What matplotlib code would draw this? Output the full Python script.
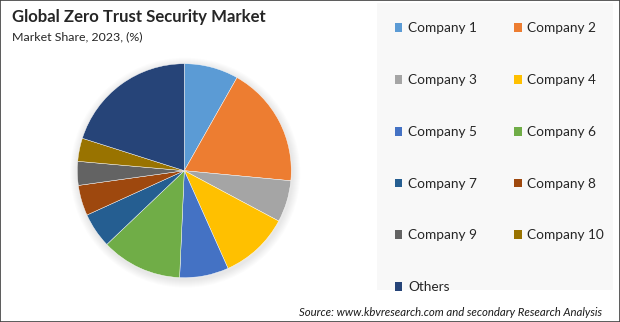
import matplotlib
matplotlib.use("Agg")
import matplotlib.pyplot as plt
from matplotlib.patches import Rectangle, Circle, Patch

labels = ["Company 1", "Company 2", "Company 3", "Company 4", "Company 5",
          "Company 6", "Company 7", "Company 8", "Company 9", "Company 10", "Others"]
shares = [8.2, 18.3, 6.3, 10.5, 7.4, 12.2, 5.3, 4.6, 3.6, 3.5, 20.1]
colors = ["#5B9BD5", "#ED7D31", "#A5A5A5", "#FFC000", "#4472C4", "#70AD47",
          "#255E91", "#9E480E", "#636363", "#997300", "#264478"]

title = "Global Zero Trust Security Market"
subtitle = "Market Share, 2023, (%)"
source = "Source: www.kbvresearch.com and secondary Research Analysis"

plt.rcParams['font.family'] = ['Lato', 'DejaVu Sans']

W, H = 620, 322
fig = plt.figure(figsize=(W / 100, H / 100), dpi=100)
fig.patch.set_facecolor("white")

ax = fig.add_axes([0, 0, 1, 1])
ax.set_xlim(0, W)
ax.set_ylim(0, H)
ax.set_aspect("equal")
ax.axis("off")

# legend panel background
ax.add_patch(Rectangle((377, 32), 236, 287, facecolor="#F8F8F8", edgecolor="none", zorder=0))

cx, cy, r = 184.3, 151.3, 107
# soft shadow
for i in range(8):
    ax.add_patch(Circle((cx + 1, cy - 2), r + 8 - i, facecolor="#000000",
                        alpha=0.012, edgecolor="none", zorder=1))

wedges, _ = ax.pie(shares, colors=colors, startangle=90, counterclock=False,
                   center=(cx, cy), radius=r, frame=True,
                   wedgeprops=dict(edgecolor="#FFFFFF", linewidth=0.3))
for w in wedges:
    w.set_zorder(2)
ax.set_xlim(0, W)
ax.set_ylim(0, H)
ax.axis("off")

fig.text(12, H - 17, title, transform=None, fontsize=12.1, fontweight="bold",
         color="#262626", va="center", ha="left")
fig.text(12, H - 37, subtitle, transform=None, fontsize=8.9, color="#262626",
         va="center", ha="left")
fig.text(602, H - 312, source, transform=None, fontsize=8.2, style="italic",
         color="#1a1a1a", va="center", ha="right")

handles = [Patch(facecolor=c, edgecolor="none") for c in colors]
order = [0, 2, 4, 6, 8, 10, 1, 3, 5, 7, 9]
leg = fig.legend([handles[i] for i in order], [labels[i] for i in order],
                 ncol=2, loc="upper left", bbox_to_anchor=(395 / W, 1 - 22.5 / H),
                 frameon=False, fontsize=9.8, handlelength=0.55, handleheight=0.6,
                 handletextpad=0.4, columnspacing=2.75, labelspacing=2.92,
                 borderaxespad=0, borderpad=0)
for t in leg.get_texts():
    t.set_color("#262626")

fig.add_artist(Rectangle((0, 0), 1, 1, transform=fig.transFigure, fill=False,
                         edgecolor="#404040", linewidth=1.2))

fig.savefig("out.png", dpi=100)
